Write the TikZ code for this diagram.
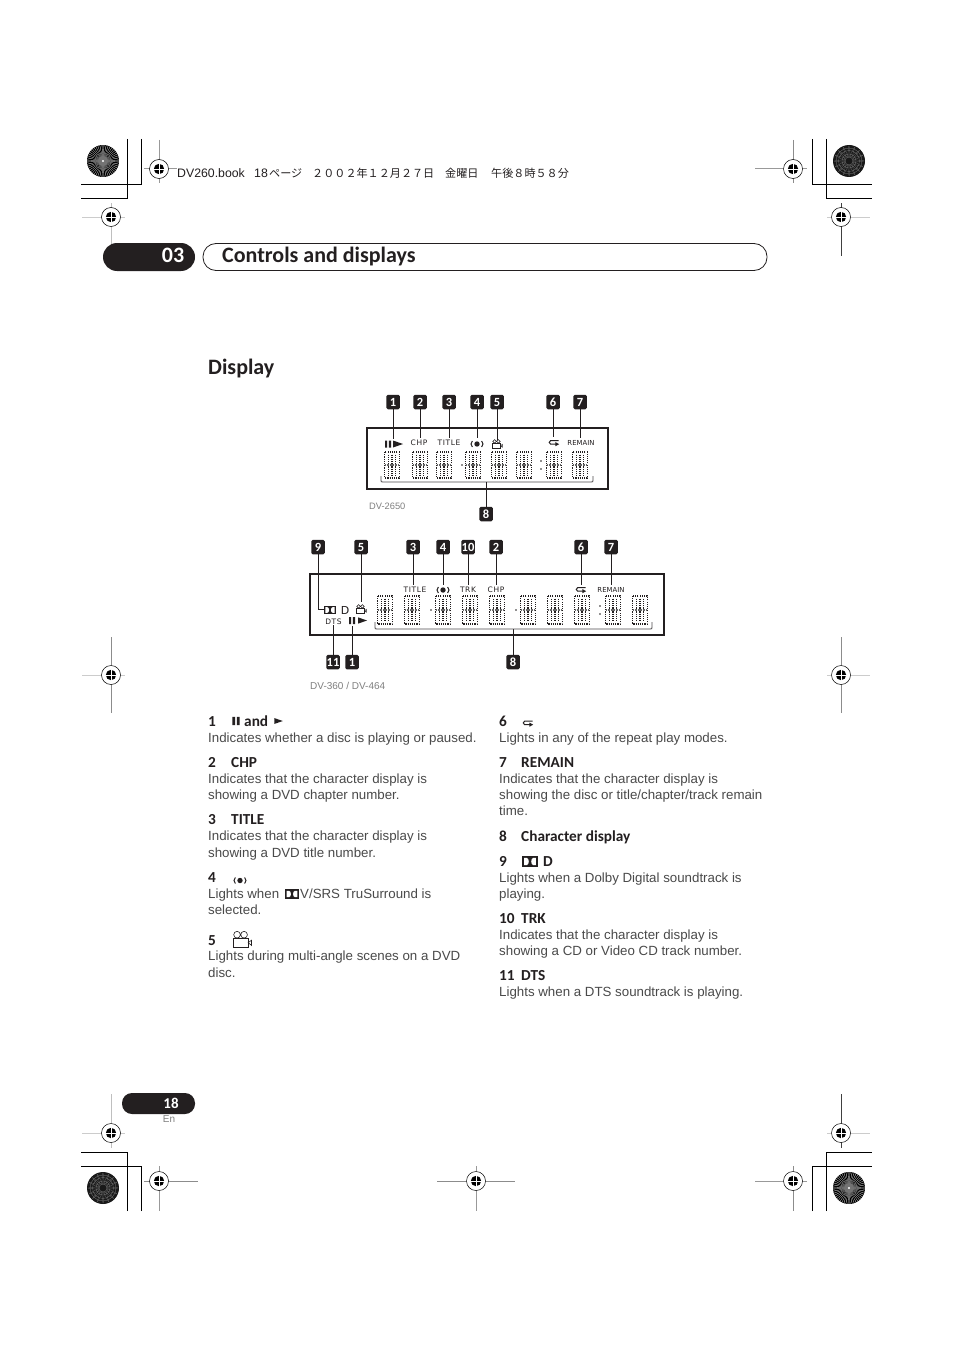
\documentclass[tikz,border=0pt]{standalone}
\usepackage{fontspec}
\setmainfont{Liberation Sans}
\newfontfamily\hfont{Carlito}
\newfontfamily\cjkf{Noto Sans CJK JP}
\newfontfamily\lcdf{DejaVu Sans}
\newfontfamily\lcdw[LetterSpace=8]{DejaVu Sans}
\definecolor{ink}{HTML}{231F20}
\definecolor{bodyc}{HTML}{4A4A4A}
\tikzset{
  x=1pt,y=-1pt,
  badge/.style={fill=ink,text=white,rounded corners=1.5pt,minimum width=13.5pt,minimum height=14.5pt,inner sep=0pt,font=\hfont\bfseries\fontsize{12.5}{13}\selectfont},
  lead/.style={draw=ink,line width=0.8pt},
  lcdframe/.style={draw=ink,line width=2.6pt},
  brk/.style={draw=ink!80,line width=0.8pt},
  lcd/.style={inner sep=0pt,text=ink,font=\lcdf\fontsize{6.9}{7}\selectfont},
  lcdwide/.style={inner sep=0pt,text=ink,font=\lcdw\fontsize{7.5}{8}\selectfont},
  bodytext/.style={anchor=base west,inner sep=0pt,text=bodyc,font=\fontsize{13.3}{15}\selectfont},
  headtext/.style={anchor=base west,inner sep=0pt,text=ink,font=\hfont\bfseries\fontsize{15.3}{16}\selectfont},
  captext/.style={anchor=base west,inner sep=0pt,text=gray,font=\fontsize{10}{11}\selectfont},
  cropline/.style={draw=black,line width=0.9pt},
  slugjp/.style={anchor=base west,inner sep=0pt,text=ink,font=\cjkf\fontsize{11.1}{12}\selectfont},
  sluglat/.style={anchor=base west,inner sep=0pt,text=ink,font=\fontsize{12.3}{13}\selectfont},
}
% registration mark: x y hx1 hx2 vy1 vy2 hcolor vcolor
\newcommand\regmark[8]{%
  \draw[#7,line width=1pt] (#3,#2) -- (#4,#2);
  \draw[#8,line width=1pt] (#1,#5) -- (#1,#6);
  \fill[white] (#1,#2) circle (9.5);
  \draw[black,line width=0.5pt] (#1,#2) circle (9.5);
  \fill[black] (#1,#2) circle (5.2);
  \draw[white,line width=0.7pt] (#1-6,#2) -- (#1+6,#2) (#1,#2-6) -- (#1,#2+6);
}
\newcommand\burstlight[2]{\begin{scope}[shift={(#1,#2)}]
  \fill[black!25] (0,0) circle (16);
  \foreach \a in {0,7.5,...,352.5}{\fill[black] (\a-2.6:16) -- (\a+2.6:16) -- (\a:3) -- cycle;}
  \fill[black!55] (0,0) circle (5);
  \fill[white] (0,0) circle (1.1);
\end{scope}}
\newcommand\burstdark[2]{\begin{scope}[shift={(#1,#2)}]
  \fill[black!90] (0,0) circle (16);
  \foreach \r in {4,7,10.5,13}{\draw[black!55,line width=0.35pt] (0,0) circle (\r);}
  \foreach \a in {0,22.5,...,337.5}{\draw[black!60,line width=0.3pt] (\a:4) -- (\a+22:15);\draw[black!60,line width=0.3pt] (\a:15) -- (\a+22:4);}
\end{scope}}
% dotted 14-segment digit centred at x,y; half width 8, half height h
\newcommand\dig[3]{\begin{scope}[shift={(#1,#2)}]
  \def\hh{#3}
  \tikzset{dd/.style={line width=1.1pt,draw=ink,dash pattern=on 1.1pt off 1.1pt}}
  \draw[dd] (-7.2,-\hh) rectangle (7.2,\hh);
  \draw[dd] (-3.8,-\hh+2.6) -- (-3.8,-1.2) (3.8,-\hh+2.6) -- (3.8,-1.2) (0,-\hh+2.6) -- (0,-1.2);
  \draw[dd] (-3.8,1.4) -- (-3.8,\hh-2.6) (3.8,1.4) -- (3.8,\hh-2.6) (0,1.4) -- (0,\hh-2.6);
  \draw[line width=2pt,draw=black!60,dash pattern=on 1.1pt off 0.5pt] (-7,0) -- (7,0);
\end{scope}}
\newcommand\icnbars[3]{\begin{scope}[shift={(#1,#2)},scale=#3]
  \fill[ink] (-3,-3.5) rectangle (-0.8,3.5) (0.8,-3.5) rectangle (3,3.5);\end{scope}}
\newcommand\icntri[3]{\begin{scope}[shift={(#1,#2)},scale=#3]
  \fill[ink] (-5,-3.5) -- (5,0) -- (-5,3.5) -- cycle;\end{scope}}
\newcommand\icndisc[3]{\begin{scope}[shift={(#1,#2)},scale=#3]
  \fill[ink] (0,0) circle (2.7);
  \draw[ink,line width=1pt] (-4.6,-3) .. controls (-6.5,-1) and (-6.5,1) .. (-4.6,3);
  \draw[ink,line width=1pt] (4.6,-3) .. controls (6.5,-1) and (6.5,1) .. (4.6,3);\end{scope}}
\newcommand\icncam[3]{\begin{scope}[shift={(#1,#2)},scale=#3]
  \draw[ink,line width=0.6pt] (-2.4,-2.6) circle (1.8) (1.4,-2.6) circle (1.8);
  \draw[ink,line width=0.6pt] (-4.6,-0.6) rectangle (3.6,4);
  \draw[ink,line width=0.6pt] (3.6,1.7) -- (5.4,0.4) -- (5.4,3.2) -- cycle;\end{scope}}
\newcommand\icnrep[3]{\begin{scope}[shift={(#1,#2)},scale=#3]
  \draw[ink,line width=1pt] (4.5,-2.4) -- (-3.4,-2.4) .. controls (-5.2,-2.4) and (-5.2,1.2) .. (-3.4,1.2) -- (2,1.2);
  \fill[ink] (1.4,-0.9) -- (5.2,1.2) -- (1.4,3.2) -- cycle;\end{scope}}
\newcommand\icndolby[3]{\begin{scope}[shift={(#1,#2)},scale=#3]
  \fill[ink] (-6,-4.2) rectangle (6,4.2);
  \fill[white] (-4.6,-2.8) -- (-2.6,-2.8) .. controls (-0.4,-2.8) and (-0.4,2.8) .. (-2.6,2.8) -- (-4.6,2.8) -- cycle;
  \fill[white] (4.6,-2.8) -- (2.6,-2.8) .. controls (0.4,-2.8) and (0.4,2.8) .. (2.6,2.8) -- (4.6,2.8) -- cycle;\end{scope}}
\begin{document}
\begin{tikzpicture}
\useasboundingbox (0,0) rectangle (954,1351);
\fill[white] (0,0) rectangle (954,1351);
% crop marks
\draw[cropline] (127,139) -- (127,198) -- (81,198) (141,139) -- (141,184) -- (81,184);
\draw[cropline] (826,139) -- (826,198) -- (872,198) (812,139) -- (812,184) -- (872,184);
\draw[cropline] (127,1211) -- (127,1152) -- (81,1152) (141,1211) -- (141,1166) -- (81,1166);
\draw[cropline] (826,1211) -- (826,1152) -- (872,1152) (812,1211) -- (812,1166) -- (872,1166);
\burstlight{103}{161}
\burstdark{849}{161}
\burstdark{103}{1188}
\burstlight{849}{1188}
\regmark{159}{169}{144}{177}{140}{183}{black!40}{black!40}
\regmark{793}{169}{755}{807}{140}{183}{black!40}{black!45}
\regmark{111}{217}{82}{125}{203}{256}{black!20}{black!25}
\regmark{841}{217}{827}{870}{203}{256}{black!20}{black!75}
\regmark{111}{675}{82}{125}{637}{713}{black!20}{black!45}
\regmark{841}{675}{827}{870}{637}{713}{black!20}{black!45}
\regmark{111}{1133}{82}{125}{1094}{1148}{black!20}{black!25}
\regmark{841}{1133}{827}{870}{1094}{1148}{black!20}{black!75}
\regmark{159}{1181}{144}{198}{1166}{1211}{black!45}{black!40}
\regmark{476}{1181}{437}{515}{1166}{1211}{black!45}{black!40}
\regmark{793}{1181}{755}{807}{1166}{1211}{black!40}{black!45}
% print header
\node[sluglat] (slug1) at (177,178) {DV260.book};
\node[sluglat] (slug2) at (254,178) {18};
\node[slugjp] (slug3) at (269,178) {ページ};
\node[slugjp] (slug4) at (312,178) {２００２年１２月２７日};
\node[slugjp] (slug5) at (445,178) {金曜日};
\node[slugjp] (slug6) at (491,178) {午後８時５８分};
% chapter header
\node[fill=ink,rounded corners=14pt,minimum width=92pt,minimum height=28pt,inner sep=0pt] (chap) at (149,257) {};
\node[inner sep=0pt,text=white,font=\hfont\bfseries\fontsize{22}{24}\selectfont] (chapn) at (173,255) {03};
\node[draw=ink,line width=0.8pt,rounded corners=13pt,minimum width=564pt,minimum height=27pt,inner sep=0pt] (titlebar) at (485,257) {};
\node[anchor=base west,inner sep=0pt,text=ink,font=\hfont\bfseries\fontsize{22}{24}\selectfont] (title) at (222,262) {Controls and displays};
\node[anchor=base west,inner sep=0pt,text=ink,font=\hfont\bfseries\fontsize{22}{24}\selectfont] (sect) at (208,374) {Display};
% ---- diagram 1 ----
\node[lcdframe,minimum width=241pt,minimum height=61pt,inner sep=0pt] (fa) at (487.5,458.5) {};
\foreach \x in {392,420,444,473,499,524,554,580}{\dig{\x}{465}{13}}
\fill[ink] (462,465) circle (0.8) (541,461) circle (0.8) (541,469) circle (0.8);
\icnbars{388}{444}{1}\icntri{398}{444}{1}
\node[lcdwide] (a2l) at (419,443) {CHP};
\node[lcdwide] (a3l) at (449,443) {TITLE};
\icndisc{477}{444}{1}
\icncam{497}{444}{1}
\icnrep{554}{443}{1}
\node[lcd] (a7l) at (581,443) {REMAIN};
\foreach \n/\x in {1/393,2/420,3/449,4/477,5/497,6/553,7/580}{
  \node[badge] (a\n) at (\x,402) {\n};
}
\coordinate (a1e) at (393,439);\coordinate (a2e) at (420,438);\coordinate (a3e) at (449,438);
\coordinate (a4e) at (477,438);\coordinate (a5e) at (497,440);\coordinate (a6e) at (553,437);\coordinate (a7e) at (580,438);
\foreach \n in {1,...,7}{\draw[lead] (a\n) -- (a\n e);}
\coordinate (abl) at (381,476);\coordinate (abr) at (593,476);\coordinate (abm) at (486,482);
\draw[brk] (abl) -- (381,480) .. controls (381,482) and (381,482) .. (383,482) -- (591,482) .. controls (593,482) and (593,482) .. (593,480) -- (abr);
\node[badge] (a8) at (486,514) {8};
\draw[lead] (a8) -- (abm);
\node[captext,font=\fontsize{9.3}{10}\selectfont] (capa) at (369,509) {DV-2650};
% ---- diagram 2 ----
\node[lcdframe,minimum width=354pt,minimum height=61pt,inner sep=0pt] (fb) at (487,604.5) {};
\foreach \x in {385,412,443,470,497,528,555,582,613,640}{\dig{\x}{610}{14}}
\fill[ink] (431,610) circle (0.8) (516,610) circle (0.8) (600,606) circle (0.8) (600,614) circle (0.8);
\node[lcdwide] (b3l) at (415,590) {TITLE};
\icndisc{443}{590}{1}
\node[lcdwide] (b10l) at (468,590) {TRK};
\node[lcdwide] (b2l) at (496,590) {CHP};
\icnrep{581}{590}{1}
\node[lcd] (b7l) at (611,590) {REMAIN};
\icndolby{330}{610}{1}
\node[inner sep=0pt,text=ink,font=\lcdf\fontsize{11}{12}\selectfont] (bD) at (345,610) {D};
\node[lcdwide] (b11l) at (333.5,621.5) {DTS};
\icnbars{352}{620.5}{1}\icntri{362.5}{620.5}{0.9}
\icncam{361}{609}{1}
\foreach \n/\x in {9/318,5/361,3/413,4/443,10/468,2/496,6/581,7/611}{
  \node[badge] (b\n) at (\x,547) {\n};
}
\foreach \n/\x in {11/333,1/352,8/513}{
  \node[badge] (b\n) at (\x,662) {\n};
}
\coordinate (b9e) at (324,609);
\draw[lead] (b9) |- (b9e);
\coordinate (b5e) at (361,602);\draw[lead] (b5) -- (b5e);
\foreach \n/\x in {3/413,4/443,10/468,2/496,6/581,7/611}{
  \coordinate (b\n e) at (\x,585);
  \draw[lead] (b\n) -- (b\n e);
}
\coordinate (b11e) at (333,625);\draw[lead] (b11) -- (b11e);
\coordinate (b1e) at (352,626);\draw[lead] (b1) -- (b1e);
\coordinate (bbm) at (513,629);\draw[lead] (b8) -- (bbm);
\coordinate (bbl) at (375,622);\coordinate (bbr) at (652,622);
\draw[brk] (bbl) -- (375,627) .. controls (375,629) and (375,629) .. (377,629) -- (650,629) .. controls (652,629) and (652,629) .. (652,627) -- (bbr);
\node[captext] (capb) at (310,689) {DV-360 / DV-464};
% ---- left column ----
\node[headtext] (n1) at (208,726) {1};
\icnbars{236}{721}{1.2}
\node[headtext] (t1) at (244,726) {and};
\icntri{278.5}{721}{0.85}
\node[bodytext] (d1) at (208,742) {Indicates whether a disc is playing or paused.};
\node[headtext] (n2) at (208,767) {2};
\node[headtext] (t2) at (231,767) {CHP};
\node[bodytext] (d2a) at (208,783) {Indicates that the character display is};
\node[bodytext] (d2b) at (208,799) {showing a DVD chapter number.};
\node[headtext] (n3) at (208,824) {3};
\node[headtext] (t3) at (231,824) {TITLE};
\node[bodytext] (d3a) at (208,840) {Indicates that the character display is};
\node[bodytext] (d3b) at (208,857) {showing a DVD title number.};
\node[headtext] (n4) at (208,882) {4};
\icndisc{240}{880.5}{1}
\node[bodytext] (d4a) at (208,898) {Lights when};
\icndolby{292}{894}{1.15}
\node[bodytext] (d4b) at (300,898) {V/SRS TruSurround is};
\node[bodytext] (d4c) at (208,914) {selected.};
\node[headtext] (n5) at (208,945) {5};
\icncam{241.5}{939.5}{1.85}
\node[bodytext] (d5a) at (208,960) {Lights during multi-angle scenes on a DVD};
\node[bodytext] (d5b) at (208,977) {disc.};
% ---- right column ----
\node[headtext] (n6) at (499,726) {6};
\icnrep{528}{723.5}{1}
\node[bodytext] (d6) at (499,742) {Lights in any of the repeat play modes.};
\node[headtext] (n7) at (499,767) {7};
\node[headtext] (t7) at (521,767) {REMAIN};
\node[bodytext] (d7a) at (499,783) {Indicates that the character display is};
\node[bodytext] (d7b) at (499,799) {showing the disc or title/chapter/track remain};
\node[bodytext] (d7c) at (499,815) {time.};
\node[headtext] (n8) at (499,841) {8};
\node[headtext] (t8) at (521,841) {Character display};
\node[headtext] (n9) at (499,866) {9};
\icndolby{530}{861.5}{1.3}
\node[headtext] (t9) at (543,866) {D};
\node[bodytext] (d9a) at (499,882) {Lights when a Dolby Digital soundtrack is};
\node[bodytext] (d9b) at (499,898) {playing.};
\node[headtext] (n10) at (499,923) {10};
\node[headtext] (t10) at (521,923) {TRK};
\node[bodytext] (d10a) at (499,939) {Indicates that the character display is};
\node[bodytext] (d10b) at (499,955) {showing a CD or Video CD track number.};
\node[headtext] (n11) at (499,980) {11};
\node[headtext] (t11) at (521,980) {DTS};
\node[bodytext] (d11) at (499,996) {Lights when a DTS soundtrack is playing.};
% folio
\node[fill=ink,rounded corners=10pt,minimum width=73pt,minimum height=21pt,inner sep=0pt] (folio) at (158.5,1103.5) {};
\node[inner sep=0pt,text=white,font=\hfont\bfseries\fontsize{15}{16}\selectfont] (folion) at (171,1103) {18};
\node[inner sep=0pt,text=gray,font=\fontsize{10}{11}\selectfont] (en) at (169,1119) {En};
\end{tikzpicture}
\end{document}
